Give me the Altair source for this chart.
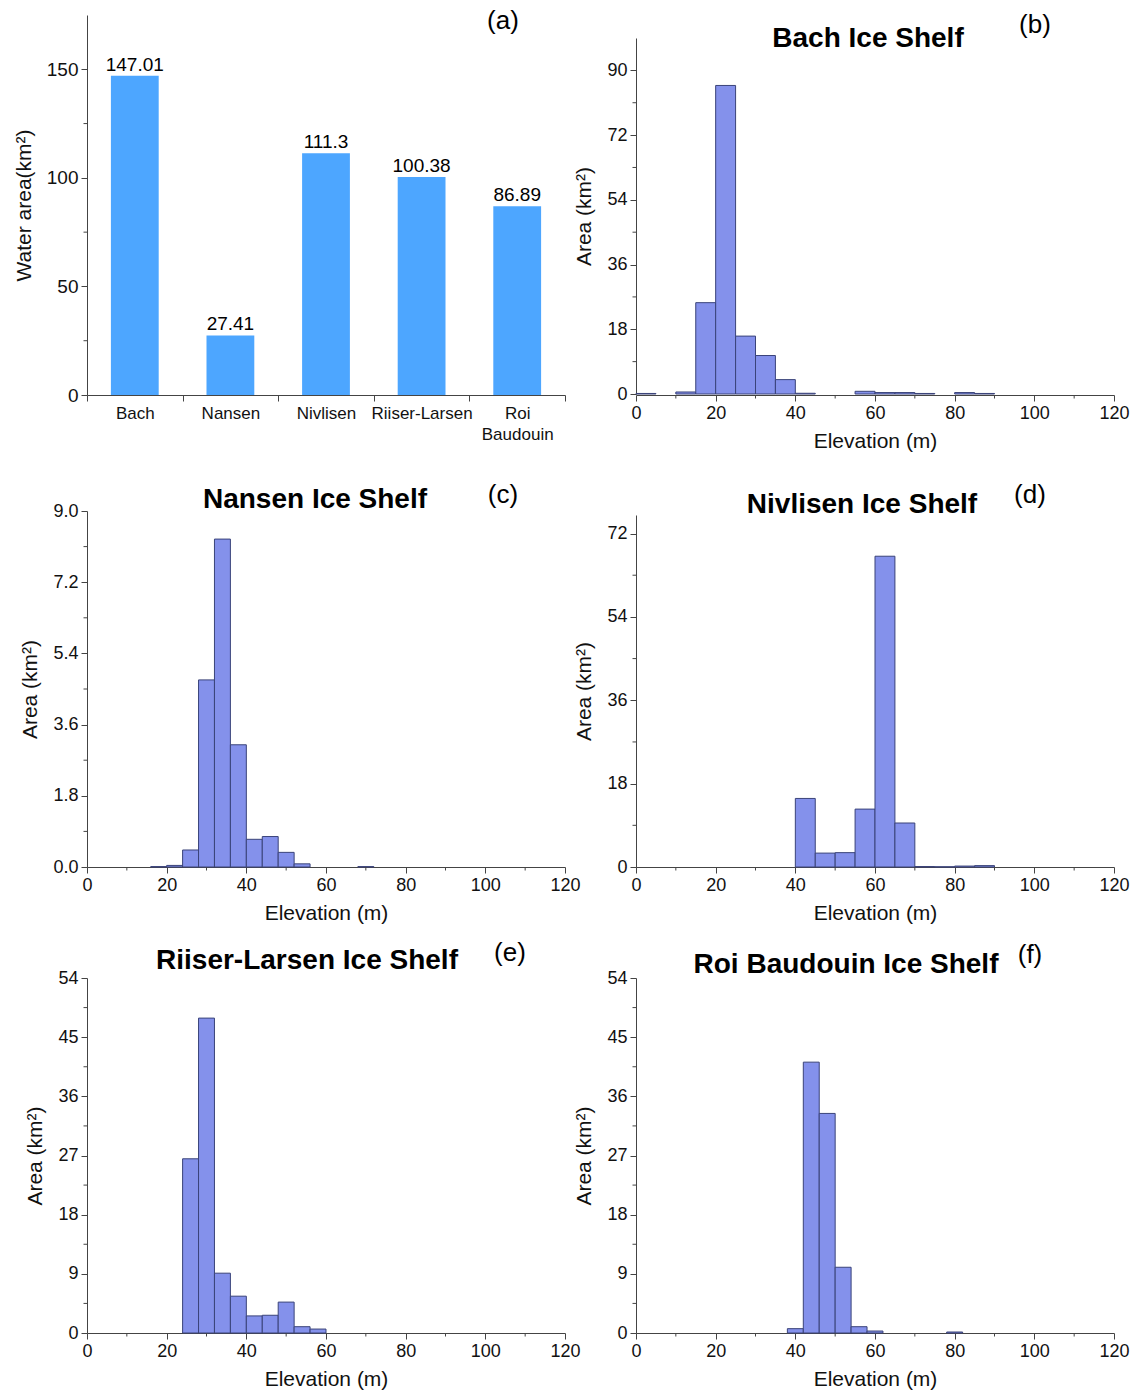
import altair as alt
import pandas as pd

FONT = "Liberation Sans"
AXC = "#444444"
TXT = "#111111"
BLUE = "#4DA6FF"
HFILL = "#8491EB"
HSTROKE = "#3A4379"

# ---------- Panel (a): water area per ice shelf ----------
shelves = ["Bach", "Nansen", "Nivlisen", "Riiser-Larsen", "Roi Baudouin"]
water_area = [147.01, 27.41, 111.3, 100.38, 86.89]
water_labels = ["147.01", "27.41", "111.3", "100.38", "86.89"]
a_major = [0, 50, 100, 150]
a_minor = [25, 75, 125]

# ---------- Histograms: bin start (m), bin width (m), area (km2) ----------
bach_start = [0, 10, 15, 20, 25, 30, 35, 40, 55, 60, 65, 70, 80, 85]
bach_area = [0.15, 0.56, 25.4, 85.8, 16.1, 10.7, 4.0, 0.2, 0.75, 0.4, 0.4, 0.15, 0.4, 0.15]
bach_width = 5

nansen_start = [16, 20, 24, 28, 32, 36, 40, 44, 48, 52, 68]
nansen_area = [0.01, 0.04, 0.43, 4.73, 8.29, 3.09, 0.70, 0.77, 0.37, 0.08, 0.01]
nansen_width = 4

nivlisen_start = [40, 45, 50, 55, 60, 65, 70, 75, 80, 85]
nivlisen_area = [14.8, 3.0, 3.1, 12.5, 67.1, 9.5, 0.1, 0.05, 0.2, 0.3]
nivlisen_width = 5

riiser_start = [24, 28, 32, 36, 40, 44, 48, 52, 56]
riiser_area = [26.5, 47.9, 9.1, 5.6, 2.6, 2.7, 4.7, 0.96, 0.6]
riiser_width = 4

roi_start = [38, 42, 46, 50, 54, 58, 78]
roi_area = [0.66, 41.2, 33.4, 10.0, 0.96, 0.3, 0.15]
roi_width = 4

x_major = [0, 20, 40, 60, 80, 100, 120]
x_minor = [10, 30, 50, 70, 90, 110]

W = 478
H1, H2, H3 = 380, 361, 355


def axis_common(**kw):
    base = dict(domainColor=AXC, tickColor=AXC, labelColor=TXT, titleColor=TXT,
                labelFont=FONT, titleFont=FONT, tickSize=6, labelPadding=3,
                grid=False, titleFontWeight="normal")
    base.update(kw)
    return alt.Axis(**base)


def annot(text, x, y, size, bold=False):
    return alt.Chart(pd.DataFrame({"t": [text]})).mark_text(
        font=FONT, fontSize=size, fontWeight="bold" if bold else "normal",
        align="center", baseline="middle", color="#000000"
    ).encode(text="t:N", x=alt.value(x), y=alt.value(y))


def hist_panel(starts, width_m, areas, ymax, ymajor, yminor, yfmt, H, yrange,
               title, tpos, letter, lpos):
    df = pd.DataFrame({"start": starts, "area": areas})
    df["end"] = df["start"] + width_m
    xs = alt.Scale(domain=[0, 120], nice=False, zero=False)
    if yrange is not None:
        ys = alt.Scale(domain=[0, ymax], nice=False, range=yrange)
    else:
        ys = alt.Scale(domain=[0, ymax], nice=False)
    xaxis = axis_common(title="Elevation (m)", values=x_major, labelFontSize=18,
                        titleFontSize=21, titlePadding=8, labelFlush=False,
                        labelOverlap=False)
    yaxis = axis_common(title="Area (km²)", values=ymajor, format=yfmt,
                        labelFontSize=18, titleFontSize=21, titlePadding=12,
                        labelOverlap=False)
    bars = alt.Chart(df).mark_rect(fill=HFILL, stroke=HSTROKE, strokeWidth=1).encode(
        x=alt.X("start:Q", scale=xs, axis=xaxis),
        x2="end:Q",
        y=alt.Y("area:Q", scale=ys, axis=yaxis),
        y2=alt.datum(0),
    )
    xmin = alt.Chart(pd.DataFrame({"start": x_minor})).mark_rule(
        color=AXC, strokeWidth=1).encode(
        x=alt.X("start:Q", scale=xs, axis=xaxis),
        y=alt.value(H), y2=alt.value(H + 3.5))
    ymin = alt.Chart(pd.DataFrame({"area": yminor})).mark_rule(
        color=AXC, strokeWidth=1).encode(
        y=alt.Y("area:Q", scale=ys, axis=yaxis),
        x=alt.value(-3.5), x2=alt.value(0))
    return alt.layer(
        bars, xmin, ymin,
        annot(title, tpos[0], tpos[1], 28, bold=True),
        annot(letter, lpos[0], lpos[1], 26),
    ).properties(width=W, height=H)


# ---------- Panel (a) ----------
dfa = pd.DataFrame({"shelf": shelves, "area": water_area, "lab": water_labels})
xa = alt.Scale(domain=shelves, paddingInner=0, paddingOuter=0)
ya = alt.Scale(domain=[0, 175], nice=False)
xa_axis = axis_common(title=None, labelAngle=0, tickBand="extent",
                      labelExpr="split(datum.label, ' ')", labelFontSize=17,
                      labelLineHeight=21, labelPadding=4)
ya_axis = axis_common(title="Water area(km²)", values=a_major, labelFontSize=19,
                      titleFontSize=21, titlePadding=12)
bars_a = alt.Chart(dfa).mark_bar(color=BLUE, width=alt.RelativeBandSize(0.5)).encode(
    x=alt.X("shelf:N", sort=shelves, scale=xa, axis=xa_axis),
    y=alt.Y("area:Q", scale=ya, axis=ya_axis),
)
text_a = alt.Chart(dfa).mark_text(font=FONT, fontSize=19, dy=-11, color="#000000").encode(
    x=alt.X("shelf:N", sort=shelves, scale=xa, axis=xa_axis),
    y=alt.Y("area:Q", scale=ya, axis=ya_axis),
    text="lab:N",
)
minor_a = alt.Chart(pd.DataFrame({"area": a_minor})).mark_rule(
    color=AXC, strokeWidth=1).encode(
    y=alt.Y("area:Q", scale=ya, axis=ya_axis),
    x=alt.value(-3.5), x2=alt.value(0))
panel_a = alt.layer(bars_a, text_a, minor_a, annot("(a)", 416, 6, 26)).properties(
    width=W, height=H1)

panel_b = hist_panel(bach_start, bach_width, bach_area, 99, [0, 18, 36, 54, 72, 90],
                     [9, 27, 45, 63, 81], "d", H1, [H1 - 1, 23],
                     "Bach Ice Shelf", (232, 24), "(b)", (399, 10))
panel_c = hist_panel(nansen_start, nansen_width, nansen_area, 9.0,
                     [0, 1.8, 3.6, 5.4, 7.2, 9.0], [0.9, 2.7, 4.5, 6.3, 8.1], ".1f",
                     H2, [H2, 5], "Nansen Ice Shelf", (228, -6), "(c)", (416, -11))
panel_d = hist_panel(nivlisen_start, nivlisen_width, nivlisen_area, 76,
                     [0, 18, 36, 54, 72], [9, 27, 45, 63], "d",
                     H2, [H2, 9], "Nivlisen Ice Shelf", (226, -1), "(d)", (394, -11))
panel_e = hist_panel(riiser_start, riiser_width, riiser_area, 54,
                     [0, 9, 18, 27, 36, 45, 54], [4.5, 13.5, 22.5, 31.5, 40.5, 49.5], "d",
                     H3, None, "Riiser-Larsen Ice Shelf", (220, -17), "(e)", (423, -25))
panel_f = hist_panel(roi_start, roi_width, roi_area, 54,
                     [0, 9, 18, 27, 36, 45, 54], [4.5, 13.5, 22.5, 31.5, 40.5, 49.5], "d",
                     H3, None, "Roi Baudouin Ice Shelf", (210, -13), "(f)", (394, -23))

chart = alt.ConcatChart(
    concat=[panel_a, panel_b, panel_c, panel_d, panel_e, panel_f],
    columns=2,
    spacing={"row": 111, "column": 71},
    bounds="flush",
).properties(
    padding={"left": 5, "top": 0, "right": 5, "bottom": 5}
).configure(background="white").configure_view(strokeWidth=0)

chart.save("out.html", embed_options={"renderer": "svg", "actions": False})
